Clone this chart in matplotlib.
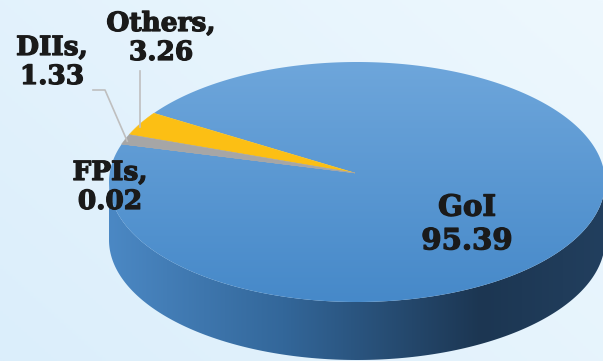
import numpy as np
import matplotlib.pyplot as plt
import matplotlib.patheffects as pe
from matplotlib.patches import Polygon
from matplotlib.colors import LinearSegmentedColormap

# данные
labels = ['Others', 'DIIs', 'FPIs', 'GoI']
values = [3.26, 1.33, 0.02, 95.39]
colors = ['#fcbf14', '#a6a6a6', '#a6a6a6', '#5a9ad6']

# геометрия "3D" пирога (в пикселях)
cx, cy = 357, 182
a, b = 248, 120
depth = 58
apex = (cx - 2, cy - 9)
start = 145.0

fig = plt.figure(figsize=(6.03, 3.61), dpi=100)
ax = fig.add_axes([0, 0, 1, 1])
ax.set_xlim(0, 603)
ax.set_ylim(361, 0)
ax.axis('off')

# фон
bg = np.linspace(0, 1, 200)
bgx, bgy = np.meshgrid(bg, bg)
bg_cmap = LinearSegmentedColormap.from_list('bg', ['#dbeefb', '#eef8fe'])
ax.imshow(0.6 * bgx + 0.4 * (1 - bgy), cmap=bg_cmap, extent=[0, 603, 361, 0],
          aspect='auto', zorder=0)

def rim(t, dy=0):
    t = np.radians(t)
    return np.column_stack([cx + a * np.cos(t), cy - b * np.sin(t) + dy])

# боковая стенка (передняя половина)
t = np.linspace(180, 360, 200)
side = np.vstack([rim(t), rim(t[::-1], depth)])
side_patch = Polygon(side, closed=True, facecolor='none', edgecolor='none')
ax.add_patch(side_patch)
side_cmap = LinearSegmentedColormap.from_list(
    'side', [(0, '#4b88c4'), (0.35, '#33679a'), (0.75, '#1c3652'), (1, '#223f5e')])
im = ax.imshow(np.linspace(0, 1, 256)[None, :], cmap=side_cmap,
               extent=[cx - a, cx + a, cy + b + depth, cy], aspect='auto', zorder=1)
im.set_clip_path(side_patch)

# верхняя грань
bounds = start + np.concatenate([[0], np.cumsum(values)]) / sum(values) * 360
top_cmap = LinearSegmentedColormap.from_list('top', ['#6ea6db', '#4689c9'])
for i, lab in enumerate(labels):
    tt = np.linspace(bounds[i], bounds[i + 1], max(3, int(bounds[i + 1] - bounds[i]) * 2))
    pts = np.vstack([[apex], rim(tt)])
    if lab == 'GoI':
        p = Polygon(pts, closed=True, facecolor='none', edgecolor='none')
        ax.add_patch(p)
        im2 = ax.imshow(np.linspace(0, 1, 256)[:, None], cmap=top_cmap,
                        extent=[cx - a, cx + a, cy + b, cy - b], aspect='auto', zorder=2)
        im2.set_clip_path(p)
    else:
        ax.add_patch(Polygon(pts, closed=True, facecolor=colors[i],
                             edgecolor=colors[i], lw=0.3, zorder=3))

# подписи
font = dict(family='DejaVu Serif', fontweight='bold', color='#1a1a1a',
            ha='center', va='center', linespacing=1.2,
            path_effects=[pe.withStroke(linewidth=0.9, foreground='#1a1a1a')])
label_pos = {'Others': (161, 38), 'DIIs': (52, 62), 'FPIs': (110, 187), 'GoI': (467, 224)}
for i, lab in enumerate(labels):
    x, y = label_pos[lab]
    if lab == 'GoI':
        ax.text(x, y, f'{lab}\n{values[i]:.2f}', fontsize=21, zorder=5, **font)
    else:
        ax.text(x, y, f'{lab},\n{values[i]:.2f}', fontsize=19, zorder=5, **font)

# выноски
mid = lambda i: (bounds[i] + bounds[i + 1]) / 2
ex, ey = rim([mid(0)])[0]
ax.plot([ex, ex], [71, ey + 3], color='#bfbfbf', lw=1.2, zorder=4)
ex, ey = rim([mid(1)])[0]
ax.plot([93, 105, ex + 2], [90, 90, ey + 2], color='#bfbfbf', lw=1.2, zorder=4)

fig.savefig('out.png', dpi=100)
